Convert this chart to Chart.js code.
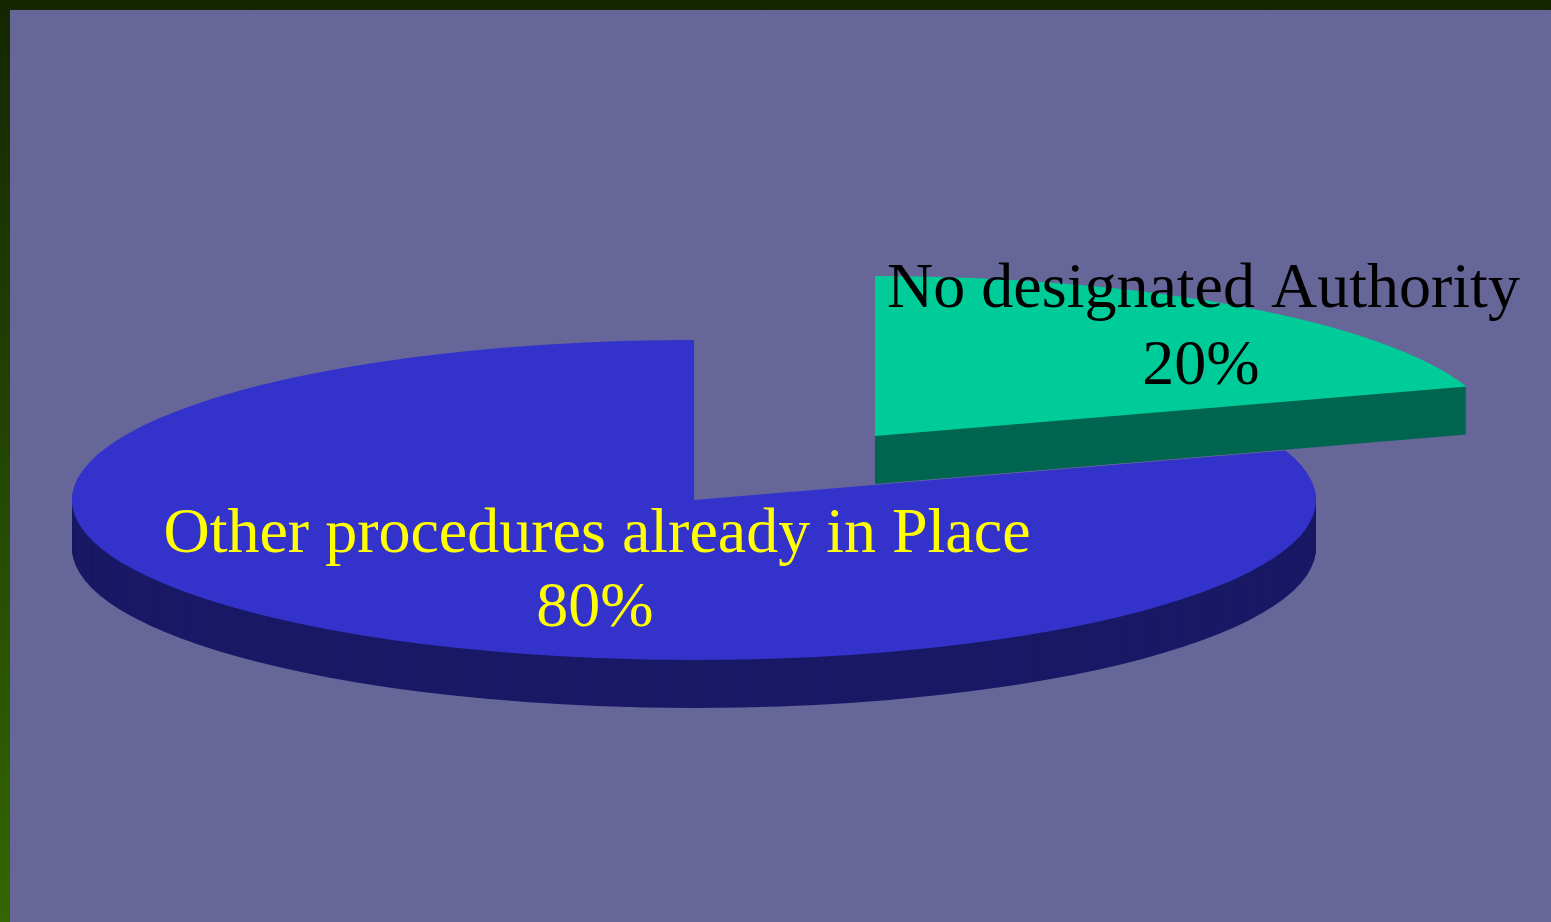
<!DOCTYPE html>
<html>
<head>
<meta charset="utf-8">
<style>
html,body{margin:0;padding:0;width:1551px;height:922px;overflow:hidden;background:linear-gradient(180deg,#142600 0%,#336600 100%);}
#panel{position:absolute;left:10px;top:10px;width:1541px;height:912px;background:#666699;}
#wrap{position:absolute;left:0;top:0;width:1551px;height:922px;}
</style>
<script src="https://cdn.jsdelivr.net/npm/chart.js@4"></script>
</head>
<body>
<div id="panel"></div>
<div id="wrap"><canvas id="c" width="1551" height="922"></canvas></div>
<script>
const categories = ["Other procedures already in Place", "No designated Authority"];
const values = [80, 20];
const percentLabels = ["80%", "20%"];
const faceColors = ["#3333CC", "#00CC99"];
const sideColors = ["#191966", "#006650"];
const labelColors = ["#FFFF00", "#000000"];
const explode = [0, 0.495];

// Screen geometry of the tilted pie
const RADIUS = 420, SCALE_X = 622 / RADIUS, SCALE_Y = 160 / RADIUS, DEPTH = 48;
const labelPos = [[597, 535, 595, 609], [1203.5, 290, 1201, 367]];

const tiltedPie = {
  id: 'tiltedPie',
  beforeDatasetDraw(chart, args) {
    const ctx = chart.ctx;
    args.meta.data.forEach((arc, i) => {
      const o = arc.options;
      const mid = (arc.startAngle + arc.endAngle) / 2;
      const ex = Math.cos(mid) * explode[i] * RADIUS;
      const ey = Math.sin(mid) * explode[i] * RADIUS;
      const paint = (dy, color) => {
        ctx.save();
        ctx.translate(arc.x, arc.y + dy);
        ctx.scale(SCALE_X, SCALE_Y);
        ctx.translate(ex - arc.x, ey - arc.y);
        o.backgroundColor = color;
        arc.draw(ctx);
        ctx.restore();
      };
      for (let d = DEPTH; d >= 1; d--) paint(d, sideColors[i]);
      paint(0, faceColors[i]);
    });
    return false;
  },
  afterDatasetsDraw(chart) {
    const ctx = chart.ctx;
    ctx.save();
    ctx.font = '64px "Liberation Serif"';
    ctx.textAlign = 'center';
    ctx.textBaseline = 'middle';
    categories.forEach((name, i) => {
      const [x1, y1, x2, y2] = labelPos[i];
      ctx.fillStyle = labelColors[i];
      ctx.fillText(name, x1, y1);
      ctx.fillText(percentLabels[i], x2, y2);
    });
    ctx.restore();
  }
};

new Chart(document.getElementById('c'), {
  type: 'pie',
  data: {
    labels: categories,
    datasets: [{
      data: values,
      backgroundColor: faceColors,
      borderWidth: 0,
      radius: RADIUS,
      clip: false
    }]
  },
  options: {
    responsive: false,
    animation: false,
    rotation: 72,
    radius: RADIUS,
    layout: { padding: { left: 0, right: 163, top: 78, bottom: 0 } },
    events: [],
    plugins: { legend: { display: false }, tooltip: { enabled: false }, title: { display: false } }
  },
  plugins: [tiltedPie]
});
</script>
</body>
</html>
